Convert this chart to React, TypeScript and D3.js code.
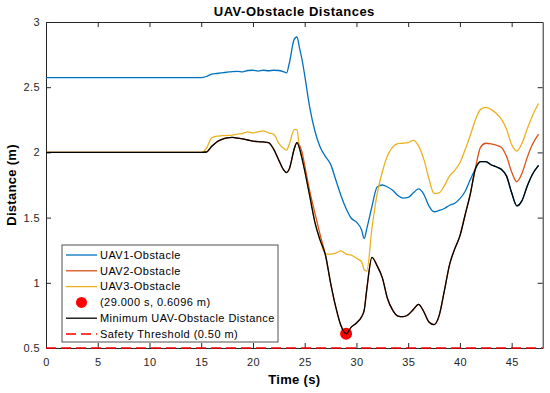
import React, { useRef, useEffect } from 'react'
import * as d3 from 'd3'

// time samples (s), shared by every series
const times = [
  0, 15,
  15.5, 16, 16.5, 17, 17.5, 18, 18.5, 19, 19.5, 20, 20.5, 21, 21.5, 22, 22.5, 23,
  23.25, 23.5,
  24, 24.25, 24.5, 24.75,
  25, 25.5, 26, 26.5, 27, 27.5, 28, 28.5, 29, 29.5, 30, 30.5,
  30.75,
  31, 31.5, 32, 32.5, 33, 33.5, 34, 34.5, 35, 35.5, 36, 36.5, 37, 37.5, 38, 38.5, 39, 39.5,
  40, 40.5, 41, 41.5, 42, 42.5, 43, 43.5, 44, 44.5, 45, 45.5, 46, 46.5, 47,
  47.6,
]

const uav1 = [
  2.573, 2.573,
  2.582, 2.6, 2.605, 2.61, 2.615, 2.62, 2.622, 2.618, 2.628, 2.63, 2.624, 2.63, 2.626, 2.63, 2.628, 2.618,
  2.61, 2.68,
  2.87, 2.885, 2.8, 2.71,
  2.59, 2.34, 2.16, 2.04, 1.97, 1.91, 1.79, 1.67, 1.57, 1.495, 1.465, 1.405,
  1.34,
  1.415, 1.585, 1.735, 1.75, 1.735, 1.71, 1.67, 1.65, 1.655, 1.69, 1.72, 1.68, 1.59, 1.545, 1.555, 1.57, 1.595, 1.61,
  1.645, 1.7, 1.79, 1.875, 1.93, 1.93, 1.905, 1.89, 1.87, 1.82, 1.69, 1.59, 1.63, 1.74, 1.83,
  1.9,
]

const uav2 = [
  2.0, 2.0,
  2.003, 2.045, 2.08, 2.1, 2.112, 2.115, 2.11, 2.103, 2.095, 2.087, 2.082, 2.08, 2.075, 2.025, 1.94, 1.862,
  1.845, 1.87,
  2.03, 2.075, 2.055, 2.0,
  1.9, 1.7, 1.53, 1.365, 1.215, 1.0, 0.815, 0.672, 0.6096, 0.66, 0.692, 0.74,
  0.79,
  0.95, 1.195, 1.13, 1.04, 0.88, 0.79, 0.745, 0.74, 0.755, 0.795, 0.835, 0.78, 0.7, 0.68, 0.75, 0.94, 1.14, 1.26,
  1.36, 1.52, 1.68, 1.88, 2.04, 2.07, 2.065, 2.055, 2.04, 1.97, 1.85, 1.775, 1.84, 1.96, 2.06,
  2.14,
]

const uav3 = [
  2.0, 2.0,
  2.03, 2.11, 2.125, 2.128, 2.13, 2.133, 2.14, 2.145, 2.158, 2.15, 2.158, 2.165, 2.15, 2.14, 2.07, 2.028,
  2.018, 2.06,
  2.175, 2.175, 2.03, 1.95,
  1.86, 1.66, 1.46, 1.325, 1.222, 1.22, 1.228, 1.245, 1.22, 1.212, 1.188, 1.16,
  1.1,
  1.09, 1.42, 1.68, 1.85, 1.975, 2.04, 2.068, 2.07, 2.075, 2.092, 2.05, 1.95, 1.8, 1.685, 1.69, 1.745, 1.82, 1.862,
  1.92, 2.02, 2.13, 2.25, 2.33, 2.345, 2.33, 2.3, 2.255, 2.18, 2.06, 2.01, 2.07, 2.18, 2.28,
  2.375,
]

const minTime = 29.0
const minDist = 0.6096
const safetyThreshold = 0.5

const xTicks = [0, 5, 10, 15, 20, 25, 30, 35, 40, 45]
const yTicks = [0.5, 1, 1.5, 2, 2.5, 3]
const yTickLabels = ['0.5', '1', '1.5', '2', '2.5', '3']

const legendLabels = [
  'UAV1-Obstacle',
  'UAV2-Obstacle',
  'UAV3-Obstacle',
  `(${minTime.toFixed(3)} s, ${minDist.toFixed(4)} m)`,
  'Minimum UAV-Obstacle Distance',
  `Safety Threshold (${safetyThreshold.toFixed(2)} m)`,
]

const colors = ['#0072BD', '#D95319', '#EDB120']
const font = 'Liberation Sans, Arial, Helvetica, sans-serif'
const axisColor = '#262626'

const App = () => {
  const svgRef = useRef<SVGSVGElement>(null)

  useEffect(() => {
    const w = 550
    const h = 393
    const left = 46
    const right = 542.7
    const top = 22
    const bottom = 348

    const svg = d3.select(svgRef.current)
    svg.selectAll('*').remove()
    svg.attr('width', w).attr('height', h).style('background', '#fff')

    const xScale = d3.scaleLinear().domain([0, 48]).range([left, right])
    const yScale = d3.scaleLinear().domain([0.5, 3]).range([bottom, top])

    const line = d3.line<number>()
      .x((d, i) => xScale(times[i]))
      .y(d => yScale(d))
      .curve(d3.curveMonotoneX)

    const minSeries = times.map((t, i) => Math.min(uav1[i], uav2[i], uav3[i]))

    // axes, ticks pointing inward
    const styleAxis = (g: any) => {
      g.attr('font-family', font).attr('font-size', 11)
      g.selectAll('path,line').attr('stroke', axisColor)
      g.selectAll('text').attr('fill', axisColor).attr('letter-spacing', 0.4)
    }
    svg.append('g')
      .attr('transform', `translate(0,${bottom})`)
      .call(d3.axisBottom(xScale).tickValues(xTicks).tickSize(-5).tickSizeOuter(0).tickPadding(10))
      .call(styleAxis)
    svg.append('g')
      .attr('transform', `translate(0,${top})`)
      .call(d3.axisTop(xScale).tickValues(xTicks).tickSize(-5).tickSizeOuter(0).tickFormat(() => ''))
      .call(styleAxis)
    svg.append('g')
      .attr('transform', `translate(${left},0)`)
      .call(d3.axisLeft(yScale).tickValues(yTicks).tickSize(-5).tickSizeOuter(0).tickPadding(6)
        .tickFormat((d, i) => yTickLabels[i]))
      .call(styleAxis)
    svg.append('g')
      .attr('transform', `translate(${right},0)`)
      .call(d3.axisRight(yScale).tickValues(yTicks).tickSize(-5).tickSizeOuter(0).tickFormat(() => ''))
      .call(styleAxis)

    // series
    ;[uav1, uav2, uav3].forEach((s, k) => {
      svg.append('path')
        .attr('d', line(s))
        .attr('fill', 'none')
        .attr('stroke', colors[k])
        .attr('stroke-width', 1.3)
    })

    svg.append('circle')
      .attr('cx', xScale(minTime))
      .attr('cy', yScale(minDist))
      .attr('r', 6)
      .attr('fill', '#FF0000')

    svg.append('path')
      .attr('d', line(minSeries))
      .attr('fill', 'none')
      .attr('stroke', '#000')
      .attr('stroke-width', 1.3)

    svg.append('line')
      .attr('x1', xScale(0)).attr('x2', xScale(48))
      .attr('y1', yScale(safetyThreshold)).attr('y2', yScale(safetyThreshold))
      .attr('stroke', '#FF0000')
      .attr('stroke-width', 1.5)
      .attr('stroke-dasharray', '10,5')

    // titles
    const bold = (sel: any) => sel
      .attr('text-anchor', 'middle')
      .attr('font-family', font).attr('font-size', 13).attr('font-weight', 'bold')
      .attr('fill', '#000')
    svg.append('text')
      .attr('x', (left + right) / 2).attr('y', 16)
      .call(bold).attr('letter-spacing', 0.5)
      .text('UAV-Obstacle Distances')
    svg.append('text')
      .attr('x', (left + right) / 2).attr('y', 384)
      .call(bold).attr('letter-spacing', 0.3)
      .text('Time (s)')
    svg.append('text')
      .attr('transform', `translate(16,${(top + bottom) / 2}) rotate(-90)`)
      .call(bold).attr('letter-spacing', 0.3)
      .text('Distance (m)')

    // legend
    const lg = svg.append('g')
    lg.append('rect')
      .attr('x', 62).attr('y', 245).attr('width', 216).attr('height', 97)
      .attr('fill', '#fff').attr('stroke', axisColor).attr('stroke-width', 0.8)
    const rowY = d3.scaleLinear().domain([0, 5]).range([255, 334])
    legendLabels.forEach((lab, i) => {
      const y = rowY(i)
      if (i === 3) {
        lg.append('circle').attr('cx', 81.5).attr('cy', y).attr('r', 5.5).attr('fill', '#FF0000')
      } else {
        lg.append('line')
          .attr('x1', 66).attr('x2', 97).attr('y1', y).attr('y2', y)
          .attr('stroke', i < 3 ? colors[i] : i === 4 ? '#000' : '#FF0000')
          .attr('stroke-width', 1.3)
          .attr('stroke-dasharray', i === 5 ? '10,5' : null)
      }
      lg.append('text')
        .attr('x', 100).attr('y', y).attr('dy', '0.35em')
        .attr('font-family', font).attr('font-size', 11)
        .attr('letter-spacing', 0.45)
        .attr('fill', '#000')
        .text(lab)
    })
  }, [])

  return (
    <div style={{ position: 'absolute', left: 0, top: 0 }}>
      <svg ref={svgRef}></svg>
    </div>
  )
}

export default App
